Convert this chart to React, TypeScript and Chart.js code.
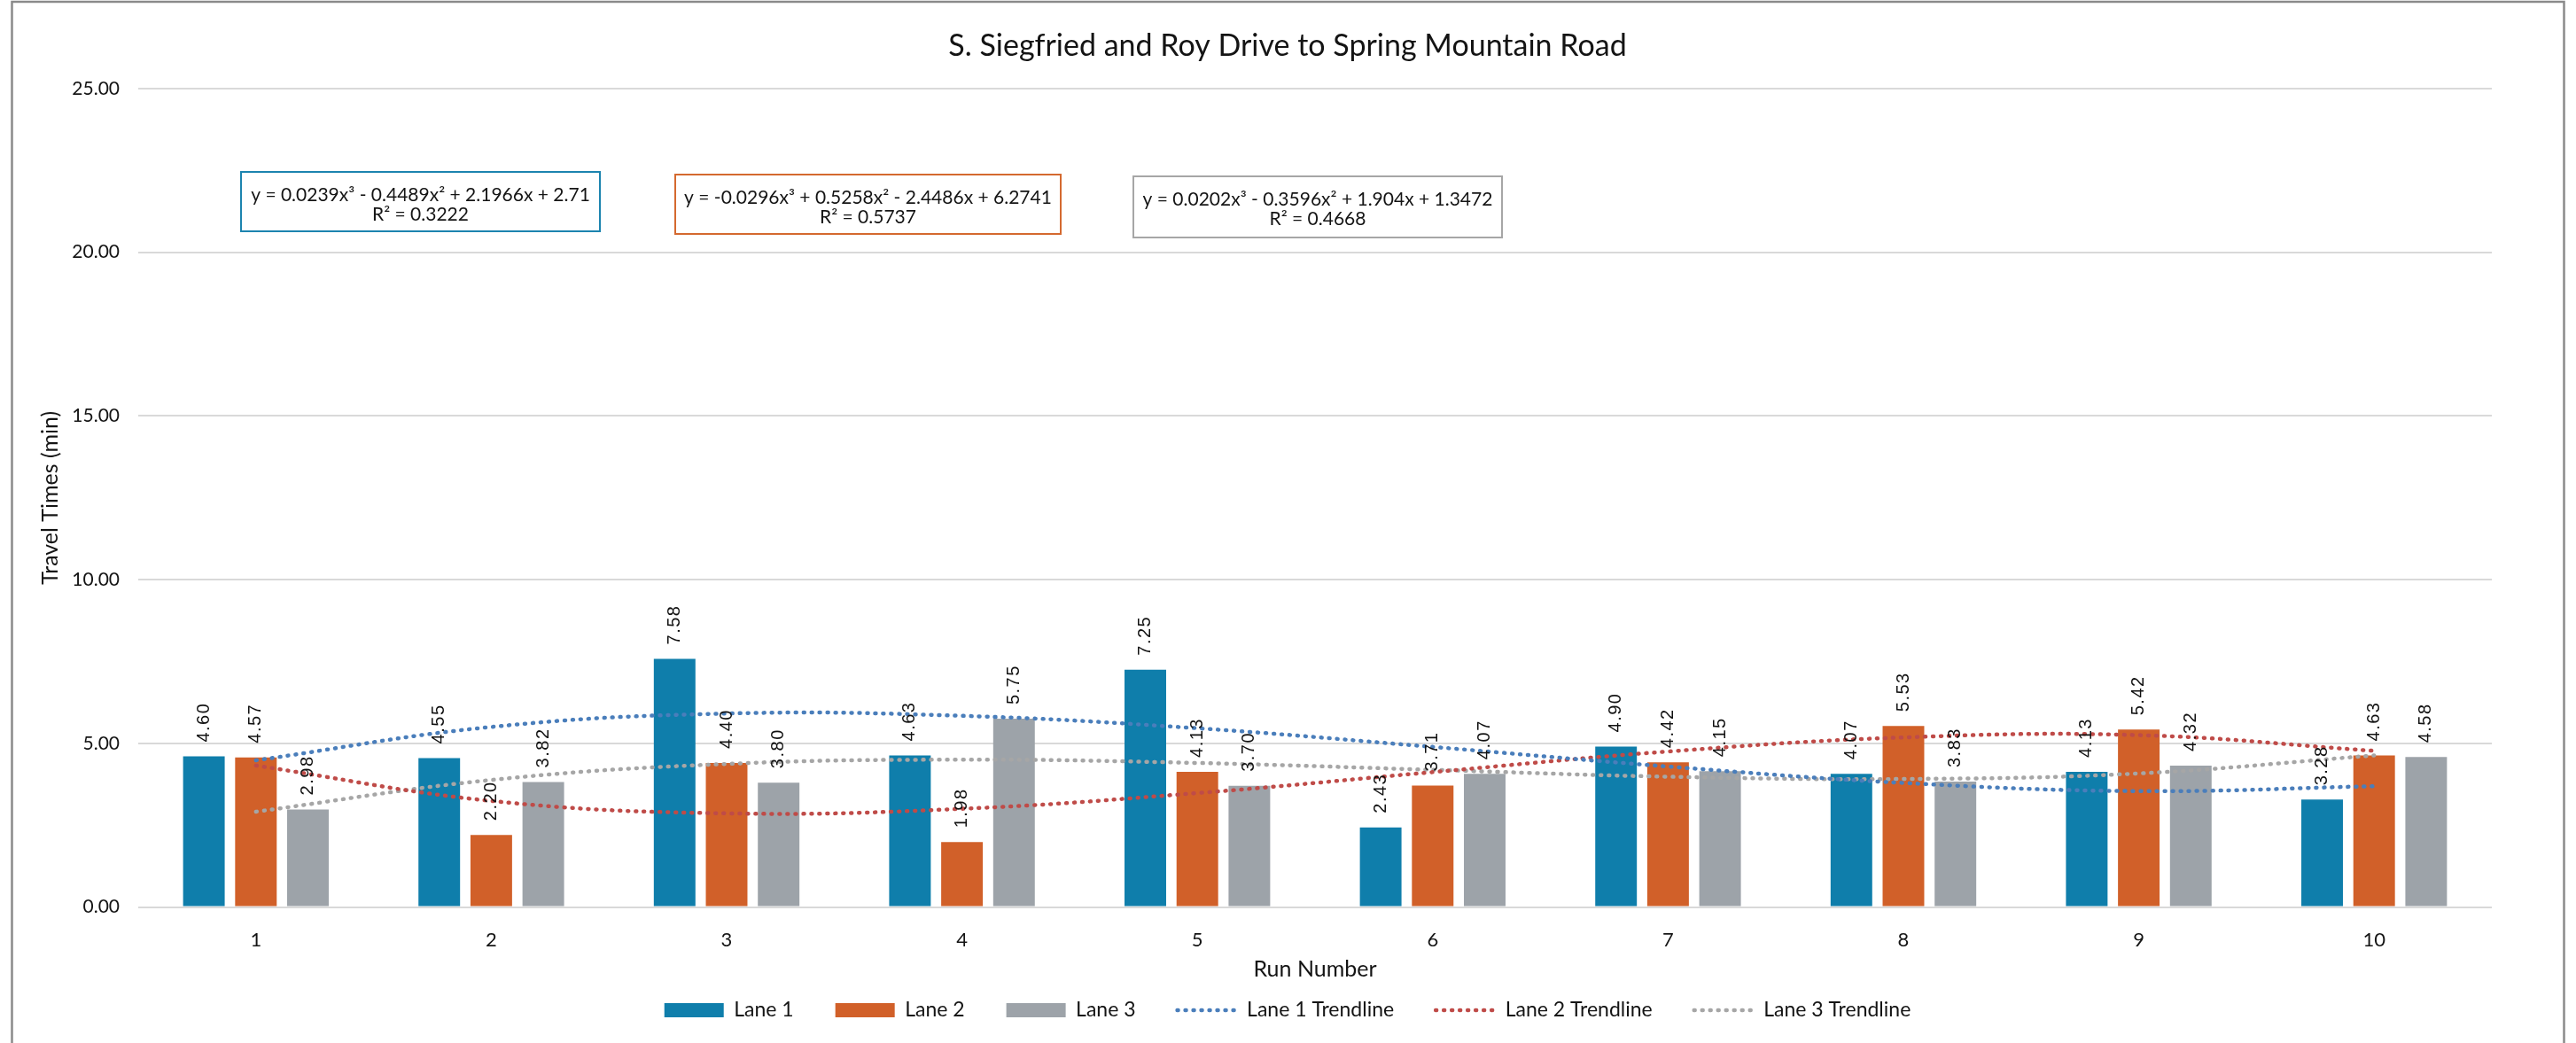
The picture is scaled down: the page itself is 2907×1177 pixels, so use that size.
import React, { useEffect, useRef } from 'react';
import { Chart, registerables } from 'chart.js';

Chart.register(...registerables);

// ---------- data ----------
const runNumbers = ['1', '2', '3', '4', '5', '6', '7', '8', '9', '10'];
const seriesNames = ['Lane 1', 'Lane 2', 'Lane 3'];
const lane1 = [4.6, 4.55, 7.58, 4.63, 7.25, 2.43, 4.9, 4.07, 4.13, 3.28];
const lane2 = [4.57, 2.2, 4.4, 1.98, 4.13, 3.71, 4.42, 5.53, 5.42, 4.63];
const lane3 = [2.98, 3.82, 3.8, 5.75, 3.7, 4.07, 4.15, 3.83, 4.32, 4.58];
const trendNames = ['Lane 1 Trendline', 'Lane 2 Trendline', 'Lane 3 Trendline'];
const lane1Trend = [4.48, 5.5, 5.91, 5.84, 5.46, 4.89, 4.29, 3.79, 3.54, 3.69];
const lane2Trend = [4.32, 3.24, 2.86, 3.0, 3.48, 4.12, 4.75, 5.18, 5.25, 4.77];
const lane3Trend = [2.91, 3.88, 4.37, 4.5, 4.4, 4.19, 3.98, 3.91, 4.08, 4.63];
const trendEquations = [
  'y = 0.0239x³ - 0.4489x² + 2.1966x + 2.71',
  'y = -0.0296x³ + 0.5258x² - 2.4486x + 6.2741',
  'y = 0.0202x³ - 0.3596x² + 1.904x + 1.3472',
];
const trendR2 = ['R² = 0.3222', 'R² = 0.5737', 'R² = 0.4668'];
const chartTitle = 'S. Siegfried and Roy Drive to Spring Mountain Road';
const yAxisTitle = 'Travel Times (min)';
const xAxisTitle = 'Run Number';
const yMin = 0;
const yMax = 25;
const yStep = 5;

// ---------- styles ----------
const FONT = "Lato, 'Noto Sans', sans-serif";
const TEXT = '#141414';
const barColors = ['#0f7eab', '#d16029', '#9da3a9'];
const trendColors = ['#4a7ebb', '#bf4b48', '#a6a6a6'];
const TREND_WIDTH = 4.5;
const TREND_DASH = [1, 8];
const eqBoxLayout = [
  { x: 272, y: 194, w: 405, h: 67, color: '#1c84af' },
  { x: 762, y: 197, w: 435, h: 67, color: '#d4692f' },
  { x: 1279, y: 199, w: 416, h: 69, color: '#a6a6a6' },
];

export default function App() {
  const ref = useRef<HTMLCanvasElement>(null);

  useEffect(() => {
    document.body.style.margin = '0';
    document.body.style.overflow = 'hidden';
    const canvas = ref.current;
    if (!canvas) return;

    const framePlugin = {
      id: 'frame',
      beforeDraw(chart: any) {
        const ctx = chart.ctx;
        ctx.save();
        ctx.fillStyle = '#ffffff';
        ctx.fillRect(0, 0, chart.width, chart.height);
        ctx.strokeStyle = '#8a8a8a';
        ctx.lineWidth = 2.5;
        ctx.beginPath();
        ctx.moveTo(13.5, chart.height + 5);
        ctx.lineTo(13.5, 2);
        ctx.lineTo(2893.5, 2);
        ctx.lineTo(2893.5, chart.height + 5);
        ctx.stroke();
        ctx.restore();
      },
    };

    const barLabelPlugin = {
      id: 'barLabels',
      afterDatasetsDraw(chart: any) {
        const ctx = chart.ctx;
        ctx.save();
        ctx.fillStyle = '#111111';
        ctx.font = "20px 'Liberation Sans', Arial, sans-serif";
        try { (ctx as any).letterSpacing = '1.5px'; } catch (e) {}
        ctx.textAlign = 'left';
        ctx.textBaseline = 'middle';
        chart.data.datasets.forEach((ds: any, i: number) => {
          if (ds.type !== 'bar') return;
          const meta = chart.getDatasetMeta(i);
          meta.data.forEach((el: any, j: number) => {
            const v = ds.data[j];
            ctx.save();
            ctx.translate(el.x, el.y - 16);
            ctx.rotate(-Math.PI / 2);
            ctx.fillText(Number(v).toFixed(2), 0, 0);
            ctx.restore();
          });
        });
        ctx.restore();
      },
    };

    const equationPlugin = {
      id: 'equations',
      afterDraw(chart: any) {
        const ctx = chart.ctx;
        ctx.save();
        eqBoxLayout.forEach((b, i) => {
          ctx.fillStyle = '#ffffff';
          ctx.fillRect(b.x, b.y, b.w, b.h);
          ctx.strokeStyle = b.color;
          ctx.lineWidth = 2;
          ctx.strokeRect(b.x, b.y, b.w, b.h);
          ctx.fillStyle = TEXT;
          ctx.font = `21px ${FONT}`;
          ctx.textAlign = 'center';
          ctx.textBaseline = 'middle';
          ctx.fillText(trendEquations[i], b.x + b.w / 2, b.y + 26);
          ctx.fillText(trendR2[i], b.x + b.w / 2, b.y + 48);
        });
        ctx.restore();
      },
    };

    const barData = [lane1, lane2, lane3];
    const trendData = [lane1Trend, lane2Trend, lane3Trend];

    const datasets: any[] = [];
    barData.forEach((d, i) => {
      datasets.push({
        type: 'bar',
        label: seriesNames[i],
        data: d,
        backgroundColor: barColors[i],
        borderWidth: 0,
        categoryPercentage: 0.663,
        barPercentage: 0.8,
        order: 2,
      });
    });
    trendData.forEach((d, i) => {
      datasets.push({
        type: 'line',
        label: trendNames[i],
        data: d,
        borderColor: trendColors[i],
        backgroundColor: trendColors[i],
        borderWidth: TREND_WIDTH,
        borderDash: TREND_DASH,
        borderCapStyle: 'round',
        pointRadius: 0,
        fill: false,
        tension: 0.4,
        order: 1,
      });
    });

    const chart = new Chart(canvas, {
      type: 'bar',
      data: { labels: runNumbers, datasets },
      plugins: [framePlugin, barLabelPlugin, equationPlugin],
      options: {
        animation: false,
        responsive: false,
        devicePixelRatio: 1,
        events: [],
        layout: { padding: { left: 13, right: 14, top: 0, bottom: 15.5 } },
        plugins: {
          tooltip: { enabled: false },
          title: {
            display: true,
            text: chartTitle,
            color: TEXT,
            font: { family: FONT, size: 34, weight: 'normal' },
            padding: { top: 31.6, bottom: 27.6 },
          },
          legend: {
            position: 'bottom',
            labels: {
              color: TEXT,
              font: { family: FONT, size: 23 },
              usePointStyle: true,
              pointStyleWidth: 67,
              boxHeight: 16,
              padding: 47,
              generateLabels(ch: any) {
                return ch.data.datasets.map((ds: any, i: number) => {
                  const isLine = ds.type === 'line';
                  return {
                    text: ds.label,
                    datasetIndex: i,
                    fillStyle: isLine ? 'rgba(0,0,0,0)' : ds.backgroundColor,
                    strokeStyle: isLine ? ds.borderColor : ds.backgroundColor,
                    lineWidth: isLine ? TREND_WIDTH : 0,
                    lineDash: isLine ? TREND_DASH : [],
                    lineCap: isLine ? 'round' : 'butt',
                    pointStyle: isLine ? 'line' : 'rect',
                    fontColor: TEXT,
                    hidden: false,
                  };
                });
              },
            },
          },
        },
        scales: {
          x: {
            grid: { display: false },
            border: { display: false },
            ticks: { color: TEXT, font: { family: FONT, size: 22 }, padding: 16 },
            title: {
              display: true,
              text: xAxisTitle,
              color: TEXT,
              font: { family: FONT, size: 25 },
              padding: { top: 0, bottom: -27.5 },
            },
            afterFit(s: any) { s.height = 58; },
          },
          y: {
            min: yMin,
            max: yMax,
            grid: { color: '#d9d9d9', lineWidth: 2, drawTicks: false },
            border: { display: false },
            ticks: {
              stepSize: yStep,
              color: TEXT,
              font: { family: FONT, size: 21 },
              padding: 21,
              callback: (v: any) => Number(v).toFixed(2),
            },
            title: {
              display: true,
              text: yAxisTitle,
              color: TEXT,
              font: { family: FONT, size: 25 },
              padding: { top: 29, bottom: 0 },
            },
            afterFit(s: any) { s.width = 143; },
          },
          yRight: {
            type: 'linear',
            position: 'right',
            display: true,
            grid: { display: false, drawOnChartArea: false },
            border: { display: false },
            ticks: { display: false },
            afterFit(s: any) { s.width = 81; },
          },
        },
      } as any,
    });

    return () => chart.destroy();
  }, []);

  return (
    <canvas
      ref={ref}
      width={2907}
      height={1177}
      style={{ position: 'absolute', left: 0, top: 0, width: '2907px', height: '1177px' }}
    />
  );
}
